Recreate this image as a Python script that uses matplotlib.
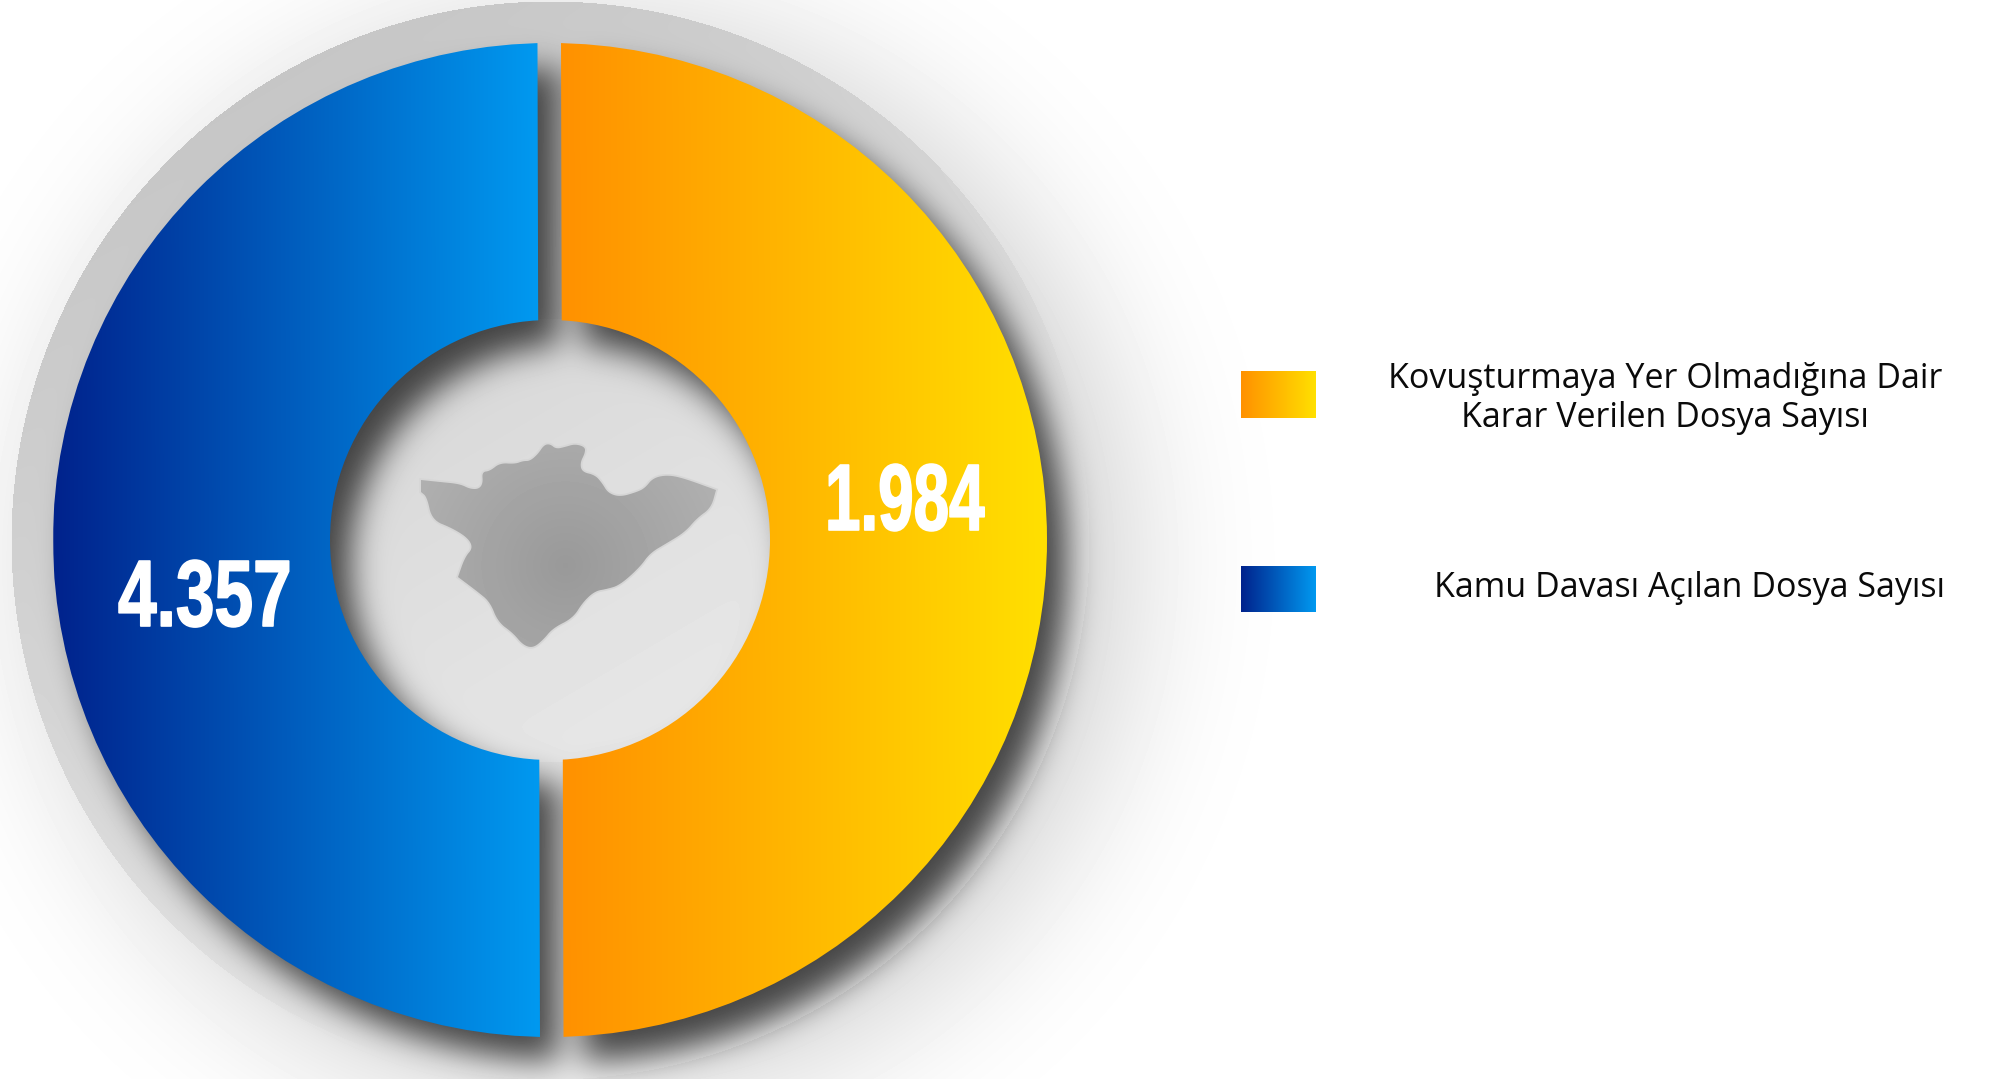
import numpy as np
import matplotlib
matplotlib.use("Agg")
import matplotlib.pyplot as plt
import matplotlib.patheffects as pe
from matplotlib.colors import LinearSegmentedColormap
from matplotlib.patches import Polygon
from matplotlib.transforms import Affine2D

plt.rcParams['font.family'] = ['Open Sans', 'Liberation Sans', 'DejaVu Sans']

# data
labels = ['Kovuşturmaya Yer Olmadığına Dair\nKarar Verilen Dosya Sayısı', 'Kamu Davası Açılan Dosya Sayısı']
value_labels = ['1.984', '4.357']
drawn_shares = [50, 50]  # the source draws two equal halves whatever the values

orange = ['#ff9100', '#ffe000']
blue = ['#00228c', '#0099f0']

# traced outline of the map in the hole (full size pixels)
map_x = [421, 421, 440, 460, 470, 479, 483, 482, 490, 500, 515, 523, 530, 538, 544, 550, 556, 565, 575, 585,
         585, 580, 582, 595, 602, 608, 620, 637, 645, 653, 667, 683, 716, 716, 711, 697, 685, 667, 650, 640,
         620, 607, 595, 583, 573, 553, 543, 533, 523, 513, 498, 490, 478, 458, 458, 465, 473, 468, 452, 432, 427, 421, 421]
map_y = [480, 480, 482, 484, 489, 489, 483, 472, 471, 463, 464, 461, 461, 454, 445, 444, 449, 447, 444, 447,
         453, 463, 472, 475, 483, 493, 497, 492, 488, 478, 475, 478, 490, 490, 508, 518, 532, 543, 553, 567,
         585, 589, 591, 602, 618, 628, 640, 648, 645, 633, 622, 602, 592, 577, 577, 557, 548, 538, 528, 520, 497, 492, 492]

W, H = 1991, 1079
cx, cy = 550, 540
R_out, R_in, R_disc = 497, 220, 539
gap = 12
tilt = 0.144


class Squeeze(pe.AbstractPathEffect):
    # narrows the glyphs of a text, the installed fonts have no condensed cut
    def __init__(self, sx, lw):
        super().__init__()
        self.sx = sx
        self.lw = lw

    def draw_path(self, renderer, gc, tpath, affine, rgbFace=None):
        aff = Affine2D().scale(self.sx, 1) + affine
        gc0 = renderer.new_gc()
        gc0.copy_properties(gc)
        gc0.set_linewidth(self.lw)
        gc0.set_foreground('white')
        renderer.draw_path(gc0, tpath, aff, rgbFace)
        gc0.restore()


def blur(a, sigma):
    pad = int(sigma * 4)
    b = np.pad(a, pad, mode='constant')
    fy = np.fft.fftfreq(b.shape[0])[:, None]
    fx = np.fft.rfftfreq(b.shape[1])[None, :]
    kernel = np.exp(-2 * (np.pi * sigma) ** 2 * (fx ** 2 + fy ** 2))
    out = np.fft.irfft2(np.fft.rfft2(b) * kernel, s=b.shape)
    return out[pad:-pad, pad:-pad]


def ring_mask(dx, dy):
    yy, xx = np.mgrid[0:H, 0:W]
    r = np.hypot(xx - cx - dx, yy - cy - dy)
    m = (r < R_out) & (r > R_in) & (np.abs(xx - cx - dx) > gap)
    return m.astype(float)


def smooth_ring(x, y, n=3):
    p = np.column_stack([x, y]).astype(float)
    for i in range(n):
        q = np.roll(p, -1, axis=0)
        p = np.column_stack([0.75 * p + 0.25 * q, 0.25 * p + 0.75 * q]).reshape(-1, 2)
    return p


# background: soft halo, grey disc, cast shadows
yy, xx = np.mgrid[0:H, 0:W]
dist = np.hypot(xx - cx, yy - cy)
disc = (dist < R_disc).astype(float)
halo = blur(np.hypot(xx - cx - 35, yy - cy - 20) < R_disc, 75)
bg = 1 - 0.2 * halo
t = (0.5 * (xx - cx) + 0.85 * (yy - cy)) / R_disc
tone = np.clip(0.85 + 0.075 * t, 0, 1)
tone = np.where(dist < R_in + 2, 0.875 + 0.03 * (t / 0.4), tone)
bg = bg * (1 - disc) + tone * disc
shadow = blur(ring_mask(20, 24), 16)
bg = bg * (1 - 0.9 * shadow) + 0.2 * 0.9 * shadow

fig = plt.figure(figsize=(W / 100, H / 100), dpi=100, facecolor='white')
ax = fig.add_axes([0, 0, 1, 1])
ax.imshow(bg, cmap='gray', vmin=0, vmax=1, extent=(0, W, 0, H), origin='upper', zorder=0)

wedges, _ = ax.pie(drawn_shares, radius=R_out, center=(cx, H - cy), startangle=90 + tilt, counterclock=False,
                   wedgeprops=dict(width=R_out - R_in), frame=True)
ramp = np.linspace(0, 1, 256)[None, :]
rot = Affine2D().rotate_deg_around(cx, H - cy, tilt) + ax.transData
for w, cols, ext in zip(wedges, [orange, blue], [(cx + gap, cx + R_out), (cx - R_out, cx - gap)]):
    w.set_visible(False)
    cmap = LinearSegmentedColormap.from_list('g', cols)
    im = ax.imshow(ramp, cmap=cmap, extent=(ext[0], ext[1], H - cy - R_out - 5, H - cy + R_out + 5), zorder=2)
    im.set_transform(rot)
    im.set_clip_path(w)

# map
pts = smooth_ring(map_x, map_y)
pts[:, 1] = H - pts[:, 1]
outline = Polygon(pts, closed=True, facecolor='none', edgecolor='#d6d6d6', lw=2.5, zorder=3)
ax.add_patch(outline)
shape = Polygon(pts, closed=True, facecolor='none', edgecolor='none', zorder=4)
ax.add_patch(shape)
my, mx = np.mgrid[420:670, 400:740]
shade = 0.6 + 0.09 * np.clip(np.hypot(mx - 565, my - 565) / 170, 0, 1)
im = ax.imshow(shade, cmap='gray', vmin=0, vmax=1, extent=(400, 740, H - 670, H - 420), origin='upper', zorder=4)
im.set_clip_path(shape)

# values on the slices
for lab, x0, base, sx in zip(value_labels, [825, 118], [530, 626], [0.675, 0.735]):
    ax.text(x0, H - base, lab, color='white', fontsize=68, fontweight='bold', family=['Liberation Sans'],
            ha='left', va='baseline', zorder=5, path_effects=[Squeeze(sx, 1.2)])

# legend
for cols, y0, y1, lab, tx, base in zip([orange, blue], [371, 566], [418, 612], labels, [1665, 1689], [427, 597]):
    cmap = LinearSegmentedColormap.from_list('g', cols)
    ax.imshow(ramp, cmap=cmap, extent=(1241, 1316, H - y1, H - y0), zorder=3)
    ax.text(tx, H - base, lab, color='#0a0a0a', fontsize=24.5, ha='center', va='baseline', linespacing=1.18, zorder=5)

ax.set_xlim(0, W)
ax.set_ylim(0, H)
ax.set_aspect('auto')
ax.axis('off')

fig.savefig('out.png', dpi=100)
